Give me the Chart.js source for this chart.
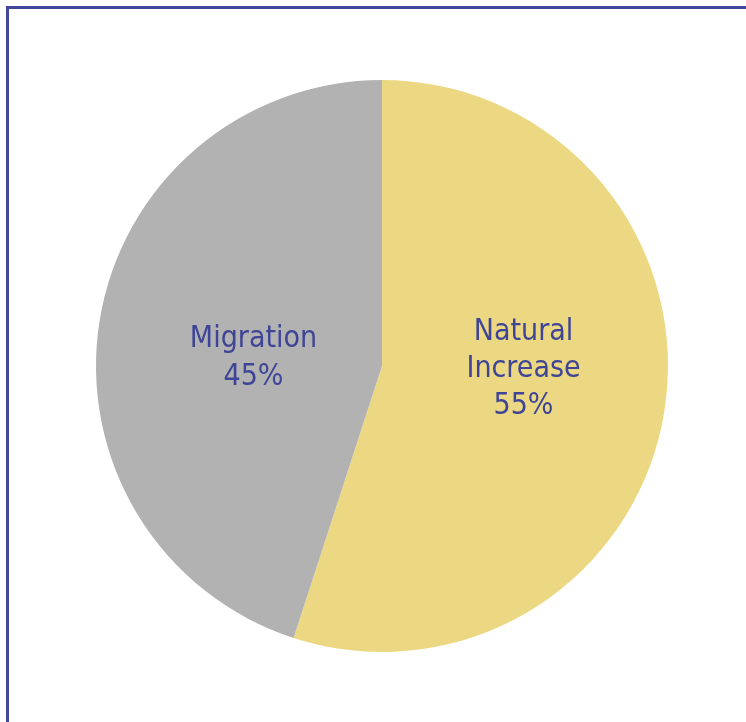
<!DOCTYPE html>
<html>
<head>
<meta charset="utf-8">
<script src="https://cdn.jsdelivr.net/npm/chart.js@4/dist/chart.umd.min.js"></script>
<style>
  html, body { margin: 0; padding: 0; background: #ffffff; }
  #wrap { position: relative; width: 746px; height: 722px; overflow: hidden; }
  #frame { position: absolute; left: 6px; top: 6px; width: 800px; height: 800px;
           border-left: 3px solid #41479A; border-top: 3px solid #41479A; box-sizing: border-box; }
  canvas { position: absolute; left: 0; top: 0; }
</style>
</head>
<body>
<div id="wrap">
  <div id="frame"></div>
  <canvas id="c" width="746" height="722"></canvas>
</div>
<script>
const categories = ["Natural Increase", "Migration"];
const labelLines = [["Natural", "Increase"], ["Migration"]];
const shares = [55, 45];
const sliceColors = ["#ECD882", "#B2B2B2"];

const labelPlugin = {
  id: "sliceLabels",
  afterDatasetsDraw(chart, args, opts) {
    const ctx = chart.ctx;
    const meta = chart.getDatasetMeta(0);
    ctx.save();
    ctx.font = opts.font;
    ctx.fillStyle = opts.color;
    ctx.textAlign = "center";
    ctx.textBaseline = "alphabetic";
    meta.data.forEach((arc, i) => {
      const p = arc.getProps(["x", "y", "startAngle", "endAngle", "outerRadius"], true);
      const mid = (p.startAngle + p.endAngle) / 2 + opts.angleShift[i] * Math.PI / 180;
      const d = p.outerRadius * opts.radial[i];
      const cx = p.x + Math.cos(mid) * d;
      const cy = p.y + Math.sin(mid) * d;
      const lines = labelLines[i].concat([shares[i] + "%"]);
      const lh = opts.lineHeight;
      const firstBase = cy - (lines.length - 1) * lh / 2 + opts.capHeight / 2;
      lines.forEach((t, k) => ctx.fillText(t, cx, firstBase + k * lh));
    });
    ctx.restore();
  }
};

new Chart(document.getElementById("c"), {
  type: "pie",
  data: {
    labels: categories,
    datasets: [{ data: shares, backgroundColor: sliceColors, borderWidth: 0 }]
  },
  options: {
    responsive: false,
    animation: false,
    layout: { padding: { left: 96, right: 78, top: 80, bottom: 70 } },
    plugins: {
      legend: { display: false },
      tooltip: { enabled: false },
      sliceLabels: {
        font: "30px 'DejaVu Sans Condensed'",
        color: "#3F4596",
        lineHeight: 37.3,
        capHeight: 22,
        radial: [0.4948, 0.451],
        angleShift: [-9, -4.1]
      }
    }
  },
  plugins: [labelPlugin]
});
</script>
</body>
</html>
